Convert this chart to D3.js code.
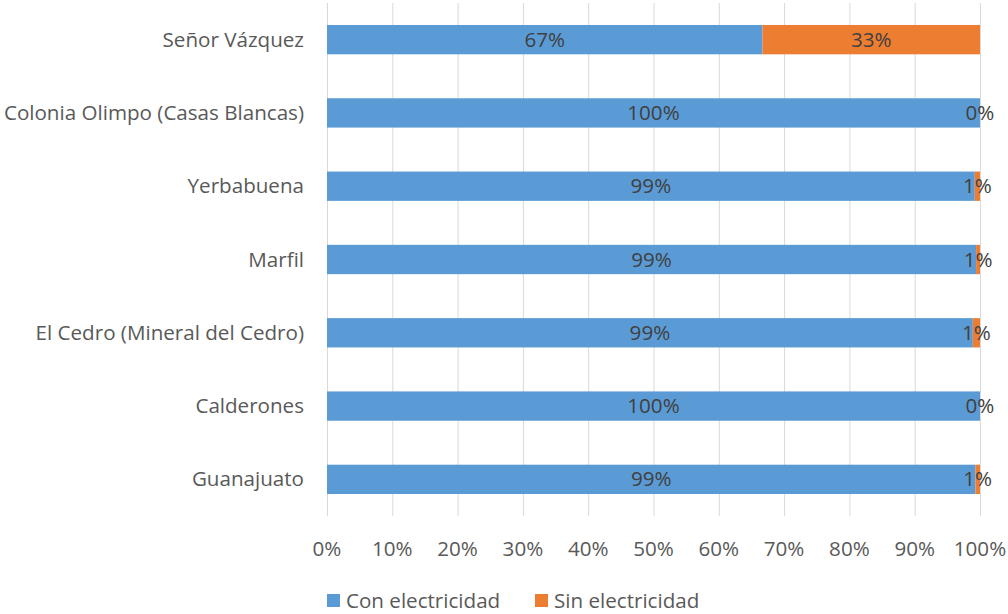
<!DOCTYPE html>
<html>
<head>
<meta charset="utf-8">
<script src="https://cdn.jsdelivr.net/npm/d3@7"></script>
<style>
  body { margin: 0; background: #fff; }
  text { font-family: "Open Sans", sans-serif; }
</style>
</head>
<body>
<div id="chart"></div>
<script>
// data, top to bottom
var categories = ["Señor Vázquez", "Colonia Olimpo (Casas Blancas)", "Yerbabuena", "Marfil",
  "El Cedro (Mineral del Cedro)", "Calderones", "Guanajuato"];
var conElec = [66.7, 100, 99.2, 99.4, 98.9, 100, 99.3];
var sinElec = [33.3, 0, 0.8, 0.6, 1.1, 0, 0.7];
var conLabels = ["67%", "100%", "99%", "99%", "99%", "100%", "99%"];
var sinLabels = ["33%", "0%", "1%", "1%", "1%", "0%", "1%"];
var seriesNames = ["Con electricidad", "Sin electricidad"];
var colors = ["#5b9bd5", "#ed7d31"];
var ticks = [0, 10, 20, 30, 40, 50, 60, 70, 80, 90, 100];

var W = 1008, H = 614;
var m = { left: 327, right: 980, top: 3, bottom: 516 };
var fs = 20.6;

var svg = d3.select("#chart").append("svg")
  .attr("width", W).attr("height", H);

var x = d3.scaleLinear().domain([0, 100]).range([m.left, m.right]);
var y = d3.scaleBand().domain(categories).range([m.top, m.bottom]).paddingInner(0.6).paddingOuter(0.3);

// gridlines
svg.append("g").selectAll("line").data(ticks).join("line")
  .attr("x1", d => x(d) + 0.5).attr("x2", d => x(d) + 0.5)
  .attr("y1", m.top).attr("y2", m.bottom)
  .attr("stroke", "#d9d9d9").attr("stroke-width", 1);

// x axis labels
svg.append("g").selectAll("text").data(ticks).join("text")
  .attr("x", d => x(d)).attr("y", 556)
  .attr("text-anchor", "middle")
  .attr("font-size", fs).attr("fill", "#595959")
  .text(d => d + "%");

// category labels
svg.append("g").selectAll("text").data(categories).join("text")
  .attr("x", m.left - 23).attr("y", d => y(d) + y.bandwidth() / 2 + 7)
  .attr("text-anchor", "end")
  .attr("font-size", fs).attr("fill", "#595959")
  .text(d => d);

var rows = categories.map((c, i) => ({ cat: c, con: conElec[i], sin: sinElec[i], cl: conLabels[i], sl: sinLabels[i] }));

// bars
var g = svg.append("g");
g.selectAll("rect.con").data(rows).join("rect").attr("class", "con")
  .attr("x", x(0)).attr("y", d => y(d.cat))
  .attr("width", d => x(d.con) - x(0)).attr("height", y.bandwidth())
  .attr("fill", colors[0]);
g.selectAll("rect.sin").data(rows).join("rect").attr("class", "sin")
  .attr("x", d => x(d.con)).attr("y", d => y(d.cat))
  .attr("width", d => x(d.con + d.sin) - x(d.con)).attr("height", y.bandwidth())
  .attr("fill", colors[1]);

// data labels
g.selectAll("text.cl").data(rows).join("text").attr("class", "cl")
  .attr("x", d => x(d.con / 2)).attr("y", d => y(d.cat) + y.bandwidth() / 2 + 7)
  .attr("text-anchor", "middle").attr("font-size", fs).attr("fill", "#404040")
  .text(d => d.cl);
g.selectAll("text.sl").data(rows).join("text").attr("class", "sl")
  .attr("x", d => x(d.con + d.sin / 2)).attr("y", d => y(d.cat) + y.bandwidth() / 2 + 7)
  .attr("text-anchor", "middle").attr("font-size", fs).attr("fill", "#404040")
  .text(d => d.sl);

// legend
var leg = svg.append("g").selectAll("g").data(seriesNames).join("g")
  .attr("transform", (d, i) => "translate(" + [327, 535][i] + ",594)");
leg.append("rect").attr("width", 13).attr("height", 13).attr("fill", (d, i) => colors[i]);
leg.append("text").attr("x", 19).attr("y", 14)
  .attr("font-size", fs).attr("fill", "#595959").text(d => d);
</script>
</body>
</html>
